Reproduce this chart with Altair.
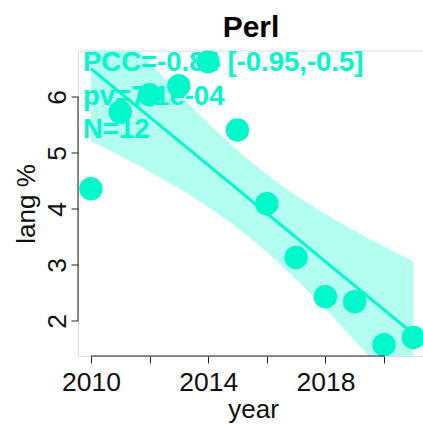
import altair as alt
import numpy as np
import pandas as pd

# Yearly share of Perl (lang %)
years = [2010, 2011, 2012, 2013, 2014, 2015, 2016, 2017, 2018, 2019, 2020, 2021]
share = [4.36, 5.73, 6.04, 6.20, 6.63, 5.41, 4.09, 3.13, 2.43, 2.34, 1.57, 1.70]

stats_lines = ["PCC=-0.84 [-0.95,-0.5]", "pv=7.1e-04", "N=12"]
x_ticks = [2010, 2012, 2014, 2016, 2018, 2020]
y_ticks = [2, 3, 4, 5, 6]

COLOR = "#00F8CA"
BAND = "#B2FEF0"
AXIS = "#222222"
FONT = "Liberation Sans"

W, H = 345, 305.5

pts = pd.DataFrame({"year": years, "share": share})

# OLS fit and 95% confidence band of the mean
x = np.array(years, dtype=float)
y = np.array(share, dtype=float)
n = len(x)
slope, intercept = np.polyfit(x, y, 1)
resid = y - (slope * x + intercept)
s = np.sqrt(np.sum(resid ** 2) / (n - 2))
sxx = np.sum((x - x.mean()) ** 2)
t975 = 2.228  # t quantile, 10 degrees of freedom
gx = np.linspace(x.min(), x.max(), 111)
fit = slope * gx + intercept
half = t975 * s * np.sqrt(1.0 / n + (gx - x.mean()) ** 2 / sxx)
band = pd.DataFrame({"year": gx, "lo": fit - half, "hi": fit + half})

xscale = alt.Scale(domain=[2009.56, 2021.33], nice=False, zero=False)
yscale = alt.Scale(domain=[1.37, 6.83], nice=False, zero=False)

xaxis = alt.Axis(
    values=x_ticks, format="d",
    labelExpr="datum.value % 4 == 2 ? datum.label : ''",
    domain=False, grid=False, tickSize=7, tickColor=AXIS, tickWidth=1,
    labelFontSize=26.5, labelColor="#111111", labelFont=FONT,
    labelBaseline="alphabetic", labelPadding=27, labelFlush=False, labelOverlap=False,
    titleFontSize=26, titleFont=FONT, titleFontWeight="normal", titleColor="#111111",
    titleX=175, titleY=61, titleAlign="center", titleBaseline="alphabetic",
)
yaxis = alt.Axis(
    values=y_ticks, format="d",
    domain=False, grid=False, tickSize=7, tickColor=AXIS, tickWidth=1,
    labelFontSize=26.5, labelColor="#111111", labelFont=FONT,
    labelAngle=270, labelAlign="center", labelBaseline="alphabetic", labelPadding=6,
    labelFlush=False, labelOverlap=False,
    titleFontSize=26, titleFont=FONT, titleFontWeight="normal", titleColor="#111111",
    titleAngle=270, titleX=-44, titleY=153, titleAlign="center", titleBaseline="alphabetic",
)

band_layer = alt.Chart(band).mark_area(color=BAND, opacity=1, clip=True).encode(
    x=alt.X("year:Q", scale=xscale, axis=xaxis, title="year"),
    y=alt.Y("lo:Q", scale=yscale, axis=yaxis, title="lang %"),
    y2="hi:Q",
)

line_layer = alt.Chart(pts).transform_regression(
    "year", "share", extent=[2010, 2021]
).mark_line(color=COLOR, strokeWidth=3, clip=True).encode(
    x=alt.X("year:Q", scale=xscale),
    y=alt.Y("share:Q", scale=yscale),
)

stats_layer = alt.Chart(pd.DataFrame({"label": ["\n".join(stats_lines)]})).mark_text(
    align="left", baseline="alphabetic", font=FONT, fontSize=27.5, fontWeight="bold",
    color=COLOR, lineBreak="\n", lineHeight=33.5,
).encode(x=alt.value(5), y=alt.value(20.5), text="label:N")

point_layer = alt.Chart(pts).mark_circle(size=550, color=COLOR, opacity=1, clip=True).encode(
    x=alt.X("year:Q", scale=xscale),
    y=alt.Y("share:Q", scale=yscale),
)

# axis lines spanning first to last tick only
x_rule = alt.Chart(pd.DataFrame({"a": [x_ticks[0]], "b": [x_ticks[-1]]})).mark_rule(
    color=AXIS, strokeWidth=1
).encode(x=alt.X("a:Q", scale=xscale), x2="b:Q", y=alt.value(H))
y_rule = alt.Chart(pd.DataFrame({"a": [y_ticks[0]], "b": [y_ticks[-1]]})).mark_rule(
    color=AXIS, strokeWidth=1
).encode(y=alt.Y("a:Q", scale=yscale), y2="b:Q", x=alt.value(0))

title_layer = alt.Chart(pd.DataFrame({"t": ["Perl"]})).mark_text(
    align="center", baseline="alphabetic", font=FONT, fontSize=30, fontWeight="bold",
    color="#000000",
).encode(x=alt.value(173), y=alt.value(-13.5), text="t:N")

chart = alt.layer(
    band_layer, line_layer, stats_layer, point_layer, x_rule, y_rule, title_layer
).properties(
    width=W, height=H,
    autosize=alt.AutoSizeParams(type="none"),
    padding={"left": 78, "top": 50.5, "right": 0, "bottom": 68},
).configure_view(stroke=None).configure(background="white")

chart.save("out.html", embed_options={"renderer": "svg", "actions": False})
